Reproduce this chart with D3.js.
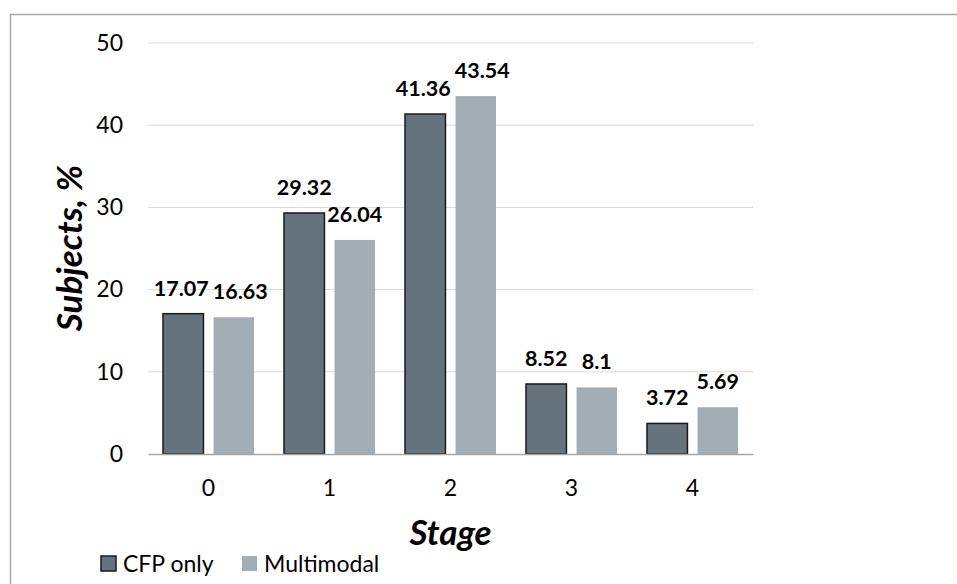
<!DOCTYPE html>
<html>
<head>
<meta charset="utf-8">
<script src="https://cdn.jsdelivr.net/npm/d3@7"></script>
<style>
  body { margin: 0; background: #fff; }
  svg { display: block; font-family: Lato, "Open Sans", sans-serif; }
</style>
</head>
<body>
<div class="graph"></div>
<script>
// Data
var stages = ["0", "1", "2", "3", "4"];
var seriesNames = ["CFP only", "Multimodal"];
var cfpOnly = [17.07, 29.32, 41.36, 8.52, 3.72];
var multimodal = [16.63, 26.04, 43.54, 8.1, 5.69];
var yTicks = [0, 10, 20, 30, 40, 50];

var colors = {"CFP only": "#65747c", "Multimodal": "#a2adb5"};

// Configuration
var W = 957, H = 584;
var margin = {top: 43, right: 204, bottom: 130, left: 148},
    width = W - margin.left - margin.right,
    height = H - margin.top - margin.bottom;

var svg = d3.select(".graph").append("svg")
    .attr("width", W)
    .attr("height", H);

// chart border (runs off the right and bottom of the picture)
svg.append("rect")
    .attr("x", 10.5).attr("y", 14.5)
    .attr("width", W + 20).attr("height", H + 20)
    .attr("fill", "none")
    .attr("stroke", "#a6a6a6")
    .attr("stroke-width", 1.5);

var g = svg.append("g")
    .attr("transform", "translate(" + margin.left + "," + margin.top + ")");

// Scales
var x0 = d3.scaleBand().domain(stages).range([0, width]).paddingInner(0).paddingOuter(0);
var x1 = d3.scaleBand().domain(seriesNames).range([15, x0.bandwidth() - 15]).paddingInner(0.2);
var y = d3.scaleLinear().domain([0, 50]).range([height, 0]);

// Gridlines
g.selectAll(".grid")
    .data(yTicks.filter(function(d) { return d > 0; }))
    .enter().append("line")
    .attr("x1", 0).attr("x2", width)
    .attr("y1", function(d) { return y(d); })
    .attr("y2", function(d) { return y(d); })
    .attr("stroke", "#d9d9d9")
    .attr("stroke-width", 1);

// Y axis labels
var yAxis = g.append("g")
    .call(d3.axisLeft(y).tickValues(yTicks).tickSize(0).tickPadding(25));
yAxis.select(".domain").remove();
yAxis.selectAll("text")
    .attr("font-size", 23)
    .attr("font-family", "Lato, 'Open Sans', sans-serif")
    .attr("fill", "#000");

// Bars
var rows = stages.map(function(s, i) {
    return {stage: s, values: [
        {name: "CFP only", value: cfpOnly[i]},
        {name: "Multimodal", value: multimodal[i]}
    ]};
});

var groups = g.selectAll(".stage")
    .data(rows)
    .enter().append("g")
    .attr("transform", function(d) { return "translate(" + x0(d.stage) + ",0)"; });

groups.selectAll("rect")
    .data(function(d) { return d.values; })
    .enter().append("rect")
    .attr("x", function(d) { return x1(d.name); })
    .attr("y", function(d) { return y(d.value); })
    .attr("width", x1.bandwidth())
    .attr("height", function(d) { return height - y(d.value); })
    .attr("fill", function(d) { return colors[d.name]; })
    .attr("stroke", function(d) { return d.name === "CFP only" ? "#1a1a1a" : "none"; })
    .attr("stroke-width", 1.5);

// Data labels
groups.each(function() {
    var labels = d3.select(this).selectAll(".lbl")
        .data(function(d) { return d.values; })
        .enter().append("text")
        .attr("class", "lbl")
        .attr("x", function(d) { return x1(d.name) + x1.bandwidth() / 2; })
        .attr("y", function(d) { return y(d.value) - 18; })
        .attr("text-anchor", "middle")
        .attr("font-size", 21.5)
        .attr("font-weight", "bold")
        .text(function(d) { return d.value; });
    // nudge the second label right when the two overlap
    var nodes = labels.nodes();
    var a = nodes[0].getBBox(), b = nodes[1].getBBox();
    var vOverlap = !(a.y + a.height < b.y || b.y + b.height < a.y);
    if (vOverlap && b.x < a.x + a.width + 4) {
        var shift = a.x + a.width + 4 - b.x;
        d3.select(nodes[0]).attr("x", +nodes[0].getAttribute("x") - 2);
        d3.select(nodes[1]).attr("x", +nodes[1].getAttribute("x") + shift - 2);
    }
});

// X axis
var xAxis = g.append("g")
    .attr("transform", "translate(0," + height + ")")
    .call(d3.axisBottom(x0).tickSize(0).tickPadding(26));
xAxis.select(".domain")
    .attr("stroke", "#a6a6a6")
    .attr("stroke-width", 1.5);
xAxis.selectAll("text")
    .attr("font-size", 23)
    .attr("font-family", "Lato, 'Open Sans', sans-serif")
    .attr("fill", "#000");

// Axis titles
svg.append("text")
    .attr("x", margin.left + width / 2)
    .attr("y", 545)
    .attr("text-anchor", "middle")
    .attr("font-size", 35)
    .attr("font-weight", "bold")
    .attr("font-style", "italic")
    .text("Stage");

svg.append("text")
    .attr("transform", "translate(82,248) rotate(-90)")
    .attr("text-anchor", "middle")
    .attr("font-size", 35)
    .attr("font-weight", "bold")
    .attr("font-style", "italic")
    .text("Subjects, %");

// Legend
var legend = svg.append("g").attr("transform", "translate(101,556)");
var legendX = [0, 141];
seriesNames.forEach(function(name, i) {
    var item = legend.append("g").attr("transform", "translate(" + legendX[i] + ",0)");
    item.append("rect")
        .attr("width", 15).attr("height", 15)
        .attr("fill", colors[name])
        .attr("stroke", name === "CFP only" ? "#1a1a1a" : "none")
        .attr("stroke-width", 1.5);
    item.append("text")
        .attr("x", 22).attr("y", 16)
        .attr("font-size", 23)
        .text(name);
});
</script>
</body>
</html>
